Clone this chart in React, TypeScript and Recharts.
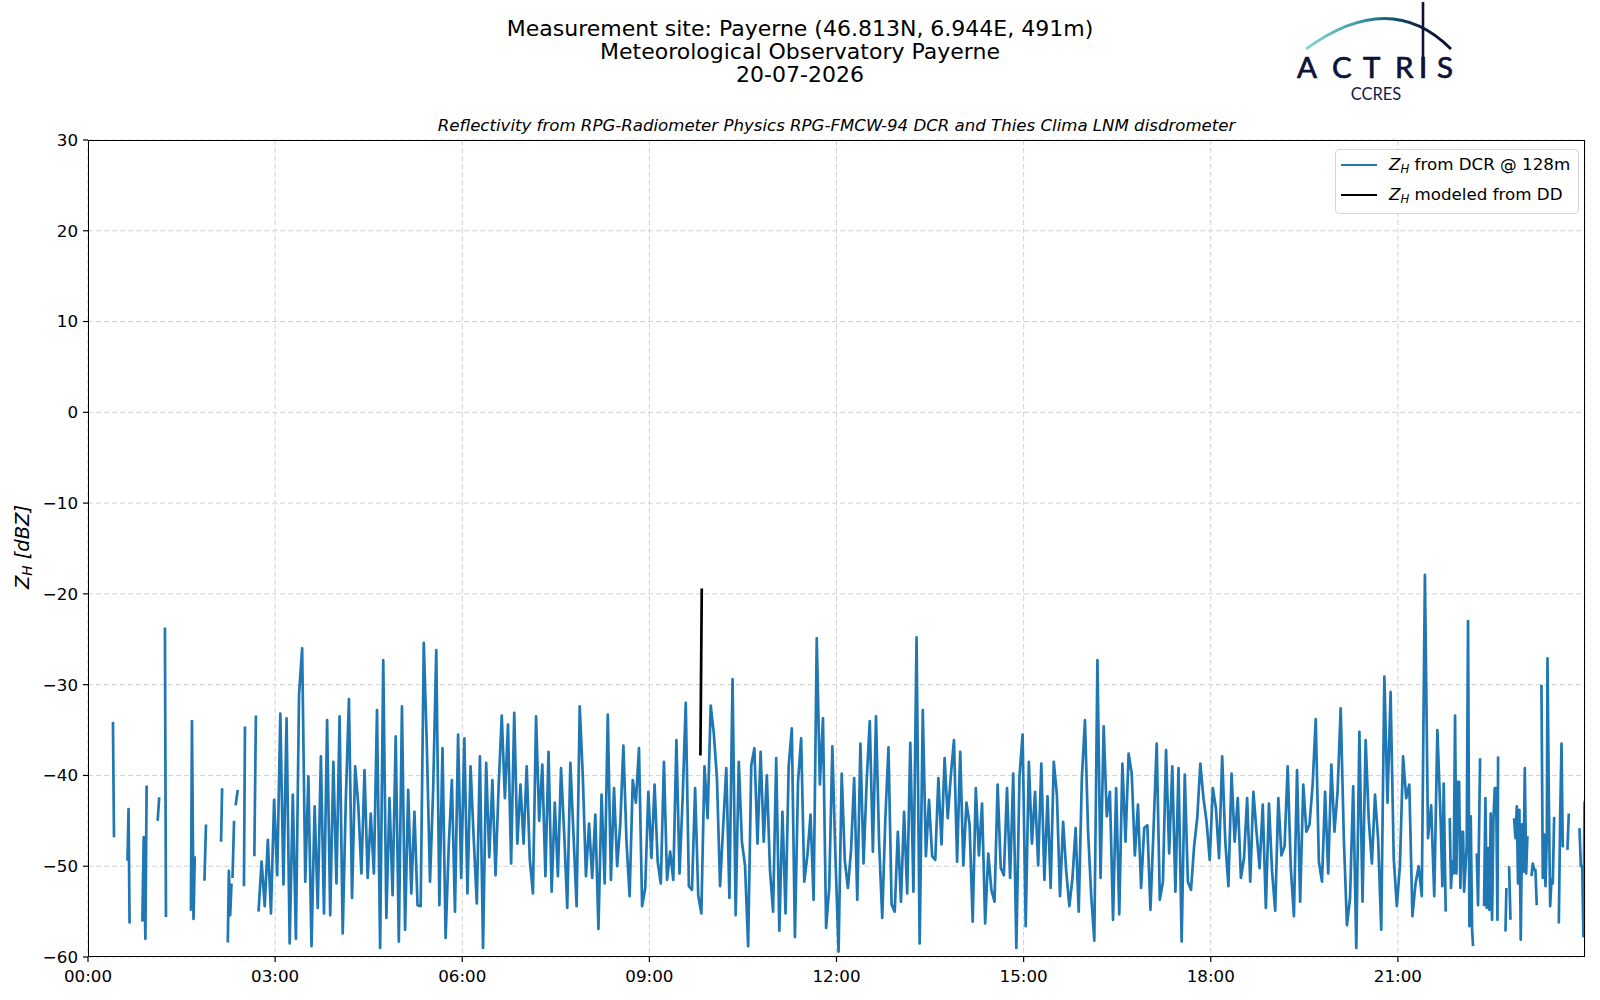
import { CartesianGrid, Legend, Line, LineChart, XAxis, YAxis } from 'recharts'

// sparse radar returns before the echo layer fills in (null = no data)
const earlyMinutes = [
  24, 25, 31, 38, 39, 40, 46, 52.3, 53.6, 55.2, 56.4, 62, 67, 68.5, 71, 74, 75, 87,
  99, 100, 101.5, 102.7, 107, 112, 113.5, 120, 128, 129, 132, 134.5, 135.5, 136.8,
  138, 138.5, 139, 140.5, 141.2, 142, 144, 147, 150, 151, 155, 160, 161.5, 163,
]
const earlyZh = [
  -34.1, -46.8, null, -49.4, -43.7, -56.3, null, -56.1, -46.8, -58.0, -41.1, null,
  -45.0, -42.4, null, -23.7, -55.6, null, -54.9, -34.0, -55.8, -48.9, null, -51.6,
  -45.4, null, -47.3, -41.4, null, -58.4, -50.5, -55.4, -51.9, null, -51.3, -45.0,
  null, -43.3, -41.6, null, -52.2, -34.6, null, -48.9, -33.4, null,
]

// continuous part, one value every 3 minutes from 02:44
const denseStartMinute = 164
const denseStepMinutes = 3
const denseZh = [
  -55.0, -49.5, -54.4, -47.1, -55.2, -42.7, -51.0, -33.2, -52.0, -33.7,
  -58.5, -42.1, -58.0, -31.1, -26.0, -51.7, -40.1, -58.8, -43.4, -54.6,
  -37.9, -55.2, -33.9, -55.4, -38.5, -51.9, -33.5, -57.4, -42.7, -31.6,
  -53.5, -39.0, -43.3, -50.8, -39.4, -51.3, -44.2, -50.8, -32.8, -59.0,
  -27.3, -55.7, -42.5, -53.2, -35.7, -58.3, -32.4, -57.0, -41.6, -53.0,
  -44.0, -54.3, -54.4, -25.4, -37.0, -51.7, -41.6, -26.2, -54.3, -37.0,
  -57.9, -47.8, -40.5, -55.0, -35.5, -51.3, -35.9, -53.0, -39.0, -46.9,
  -54.1, -37.9, -59.0, -38.6, -49.0, -40.5, -51.0, -41.2, -33.4, -42.5,
  -34.4, -49.7, -33.1, -47.5, -41.0, -47.5, -39.0, -49.3, -53.0, -33.5,
  -45.0, -38.8, -51.1, -37.4, -52.8, -43.0, -51.1, -39.2, -46.2, -54.6,
  -38.6, -46.5, -54.4, -32.4, -40.2, -51.1, -45.3, -51.3, -44.3, -56.9,
  -42.1, -51.9, -33.3, -51.5, -41.4, -50.0, -45.4, -36.7, -47.3, -53.3,
  -40.5, -43.0, -37.0, -54.4, -52.4, -41.8, -49.1, -41.0, -49.5, -51.9,
  -38.5, -51.5, -48.4, -51.5, -36.1, -50.8, -42.5, -32.0, -52.2, -52.6,
  -41.4, -53.2, -55.2, -39.0, -44.7, -32.3, -35.4, -40.3, -52.2, -45.6,
  -39.2, -53.5, -29.4, -55.4, -38.5, -47.3, -49.9, -58.8, -38.9, -37.0,
  -47.5, -37.4, -47.3, -40.0, -50.4, -55.0, -38.1, -57.1, -44.0, -55.2,
  -39.0, -34.8, -57.8, -40.7, -35.9, -51.7, -48.8, -44.3, -53.7, -24.9,
  -41.0, -33.7, -56.8, -52.4, -36.8, -49.1, -59.4, -39.8, -49.4, -52.4,
  -48.2, -40.3, -53.7, -36.5, -49.7, -40.7, -34.0, -48.4, -33.5, -47.5,
  -55.7, -44.7, -36.9, -54.2, -55.0, -46.2, -53.9, -44.0, -53.0, -36.4,
  -52.8, -24.8, -58.5, -32.8, -48.9, -42.7, -48.9, -49.3, -40.3, -47.6,
  -38.1, -44.7, -40.0, -36.1, -49.5, -37.4, -49.9, -43.0, -45.4, -56.1,
  -41.4, -48.8, -43.1, -56.3, -48.6, -52.6, -53.9, -41.0, -50.2, -51.0,
  -41.4, -51.3, -39.8, -59.0, -40.1, -35.5, -56.6, -38.5, -47.5, -41.8,
  -49.9, -38.7, -51.5, -42.3, -52.4, -38.5, -42.1, -53.3, -45.1, -50.6,
  -54.4, -51.3, -45.8, -55.0, -40.3, -33.9, -46.2, -53.2, -58.2, -27.3,
  -51.3, -34.6, -44.5, -41.8, -55.9, -41.4, -55.3, -38.7, -47.3, -37.6,
  -39.8, -48.8, -43.2, -52.4, -45.8, -45.5, -54.8, -45.8, -36.5, -53.7,
  -51.7, -37.2, -48.6, -39.0, -52.8, -39.2, -58.3, -39.9, -51.7, -52.6,
  -47.8, -44.7, -38.7, -42.5, -45.1, -49.3, -41.4, -43.6, -49.1, -37.9,
  -47.3, -52.2, -39.8, -47.3, -42.5, -51.3, -49.1, -42.5, -51.7, -41.8,
  -46.2, -50.2, -43.2, -54.6, -43.1, -50.6, -54.9, -42.5, -48.8, -47.8,
  -39.0, -50.2, -55.5, -39.4, -53.9, -41.0, -46.2, -45.4, -41.0, -33.8,
  -49.5, -51.7, -41.8, -50.8, -38.8, -46.2, -41.8, -32.6, -46.9, -56.5,
  -53.5, -41.2, -59.0, -35.2, -53.9, -36.1, -44.9, -49.7, -42.1, -47.0,
  -57.0, -29.1, -43.0, -30.8, -49.1, -54.4, -49.9, -37.9, -42.5, -41.0,
  -55.5, -51.9, -50.0, -53.3, -17.9, -46.9, -43.3, -53.3, -35.0,
]

// broken-up returns in the last two hours
const lateMinutes = [
  1301.2, 1302.8, 1304.1, 1306.0, 1308, 1309.9, 1311.1, 1312.4, 1313.7, 1315.0,
  1316.3, 1317.6, 1318.9, 1320.1, 1321.4, 1322.7, 1323.7, 1325.0, 1326.2, 1327.5,
  1328.8, 1330.1, 1331.4, 1332.3, 1334, 1335.9, 1337.1, 1339.1, 1341, 1342.9,
  1344.2, 1345.5, 1346.8, 1348.0, 1349.3, 1350.6, 1351.9, 1353.2, 1354.5, 1355.8,
  1356.4, 1360, 1363.5, 1364.4, 1365.7, 1367.0, 1368.3, 1370, 1371.8, 1373.1,
  1374.4, 1375.6, 1376.9, 1378.2, 1379.5, 1380.8, 1382.1, 1383.4, 1384.6, 1386.5,
  1388.5, 1389.8, 1391.1, 1392.3, 1393.6, 1396, 1398.1, 1399.4, 1400.7, 1402.0,
  1403.3, 1403.9, 1405.2, 1406.5, 1407.7, 1409.0, 1410.3, 1411.6, 1413, 1414.8,
  1416.1, 1417.4, 1418.6, 1419.9, 1421.5, 1423.1, 1424.4, 1430, 1434.7, 1436.0,
  1437.3, 1438.5, 1439.5, 1440,
]
const lateZh = [
  -45.1, -52.2, -40.9, -55.0, null, -44.7, -52.4, -49.5, -50.8, -33.4,
  -50.8, -40.7, -40.7, -52.4, -46.2, -46.2, -52.8, -50.2, -47.8, -23.0,
  -56.6, -44.5, -57.0, -58.8, null, -48.6, -54.3, -38.1, null, -54.4,
  -42.5, -54.6, -48.0, -54.8, -44.2, -55.9, -44.9, -41.4, -41.4, -55.9,
  -37.9, null, -57.2, -52.4, null, -50.0, -55.9, null, -44.7, -46.9,
  -43.4, -51.9, -43.8, -58.1, -45.4, -50.6, -39.2, -50.8, -46.7, null,
  -51.1, -49.7, -50.4, -50.4, -54.3, null, -30.0, -51.3, -46.5, -52.2,
  -46.7, -27.1, -42.5, -54.4, -51.5, -51.9, -44.7, -44.7, null, -56.3,
  -44.7, -36.5, -47.8, -47.8, null, -48.2, -44.2, null, -45.8, -50.0,
  -50.0, -57.7, -43.1, -42.8,
]

// disdrometer-modelled reflectivity (single rain event)
const ddMinutes = [589.1, 590.4]
const ddZh = [-37.8, -19.4]

const hourTicks = [0, 180, 360, 540, 720, 900, 1080, 1260]
const minorHourTicks = [
  0, 60, 120, 180, 240, 300, 360, 420, 480, 540, 600, 660, 720, 780, 840, 900, 960,
  1020, 1080, 1140, 1200, 1260, 1320, 1380, 1440,
]
const zhTicks = [30, 20, 10, 0, -10, -20, -30, -40, -50, -60]
const minorZhTicks = [
  30, 28, 26, 24, 22, 20, 18, 16, 14, 12, 10, 8, 6, 4, 2, 0, -2, -4, -6, -8, -10,
  -12, -14, -16, -18, -20, -22, -24, -26, -28, -30, -32, -34, -36, -38, -40, -42,
  -44, -46, -48, -50, -52, -54, -56, -58, -60,
]

const titleLines = [
  'Measurement site: Payerne (46.813N, 6.944E, 491m)',
  'Meteorological Observatory Payerne',
  '20-07-2026',
]
const subtitle =
  'Reflectivity from RPG-Radiometer Physics RPG-FMCW-94 DCR and Thies Clima LNM disdrometer'
const legendItems = [
  { label: 'from DCR @ 128m', color: '#1f77b4' },
  { label: 'modeled from DD', color: '#000000' },
]

const dcrData = [
  ...earlyMinutes.map((minute, i) => ({ minute, zh: earlyZh[i] })),
  ...denseZh.map((zh, i) => ({ minute: denseStartMinute + i * denseStepMinutes, zh })),
  ...lateMinutes.map((minute, i) => ({ minute, zh: lateZh[i] })),
]
const ddData = ddMinutes.map((minute, i) => ({ minute, zh: ddZh[i] }))

const FONT = '"DejaVu Sans", sans-serif'

const fmtTime = (m: number) =>
  `${String(Math.floor(m / 60)).padStart(2, '0')}:${String(m % 60).padStart(2, '0')}`
const fmtZh = (v: number) => (v < 0 ? `\u2212${Math.abs(v)}` : String(v))

const ZH = () => (
  <span>
    <i>Z</i>
    <sub style={{ fontSize: '0.7em', fontStyle: 'italic', verticalAlign: '-0.25em' }}>H</sub>
  </span>
)

const LegendBox = () => (
  <div
    style={{
      border: '1px solid #d4d4d4',
      borderRadius: 4,
      background: 'rgba(255,255,255,0.85)',
      padding: '0 8px 3px 5px',
      fontFamily: FONT,
      fontSize: 16.7,
      color: '#000',
    }}
  >
    {legendItems.map((item) => (
      <div key={item.label} style={{ display: 'flex', alignItems: 'center', height: 30 }}>
        <span style={{ width: 36, borderTop: `2.7px solid ${item.color}`, marginRight: 12 }} />
        <span style={{ whiteSpace: 'nowrap' }}>
          <ZH /> {item.label}
        </span>
      </div>
    ))}
  </div>
)

const Logo = () => (
  <svg width={1600} height={110} style={{ position: 'absolute', left: 0, top: 0 }}>
    <defs>
      <linearGradient id="arc" gradientUnits="userSpaceOnUse" x1={1306} y1={0} x2={1451} y2={0}>
        <stop offset="0" stopColor="#93d5cf" />
        <stop offset="0.35" stopColor="#3a9ea6" />
        <stop offset="0.6" stopColor="#155470" />
        <stop offset="0.8" stopColor="#0c1d3d" />
        <stop offset="1" stopColor="#0b0f30" />
      </linearGradient>
    </defs>
    <path d="M1306,49 Q1390,-12 1451,49" fill="none" stroke="url(#arc)" strokeWidth={2.8} />
    <line x1={1423} y1={2} x2={1423} y2={78} stroke="#0d1238" strokeWidth={2.6} />
    <text
      x="1297 1332 1363 1395 1419 1437"
      y={78}
      fontFamily="Lato, 'Open Sans', sans-serif"
      fontSize={29.5}
      fill="#0d1238"
      stroke="#0d1238"
      strokeWidth={0.7}
    >
      ACTRIS
    </text>
    <text x={1376} y={100} textAnchor="middle" fontFamily="Lato, sans-serif" fontSize={16.5} fill="#141c48">
      CCRES
    </text>
  </svg>
)

export default function App() {
  return (
    <div style={{ position: 'relative', width: 1600, height: 1000, background: '#fff', fontFamily: FONT }}>
      <style>{'body{margin:0}'}</style>
      {titleLines.map((t, i) => (
        <div
          key={t}
          style={{
            position: 'absolute',
            left: 0,
            width: 1600,
            top: 16 + i * 23,
            textAlign: 'center',
            fontSize: 22,
            lineHeight: '26px',
            color: '#000',
          }}
        >
          {t}
        </div>
      ))}
      <div
        style={{
          position: 'absolute',
          left: 88,
          width: 1497,
          top: 116,
          textAlign: 'center',
          fontSize: 16.6,
          fontStyle: 'italic',
          lineHeight: '20px',
        }}
      >
        {subtitle}
      </div>
      <Logo />
      <div
        style={{
          position: 'absolute',
          left: 23,
          top: 547,
          transform: 'translate(-50%, -50%) rotate(-90deg)',
          fontSize: 19.5,
          whiteSpace: 'nowrap',
        }}
      >
        <ZH /> <i>[dBZ]</i>
      </div>
      <div style={{ position: 'absolute', left: 0, top: 0 }}>
        <LineChart width={1600} height={1000} margin={{ top: 140, right: 15, bottom: 0, left: 0 }}>
          <CartesianGrid stroke="#d2d2d2" strokeDasharray="5 3" strokeWidth={1} />
          <XAxis
            xAxisId="minor"
            type="number"
            dataKey="minute"
            domain={[0, 1440]}
            ticks={minorHourTicks}
            tickFormatter={() => ''}
            height={0}
            tickSize={3}
            axisLine={false}
            tickLine={{ stroke: '#000', strokeWidth: 1 }}
            allowDataOverflow
          />
          <XAxis
            type="number"
            dataKey="minute"
            domain={[0, 1440]}
            ticks={hourTicks}
            tickFormatter={fmtTime}
            height={43}
            tickSize={5}
            tickMargin={8}
            axisLine={false}
            tickLine={{ stroke: '#000', strokeWidth: 1.2 }}
            tick={{ fill: '#000', fontSize: 16.7, fontFamily: FONT }}
            allowDataOverflow
          />
          <YAxis
            yAxisId="minor"
            type="number"
            domain={[-60, 30]}
            ticks={minorZhTicks}
            tickFormatter={() => ''}
            width={0}
            tickSize={3}
            axisLine={false}
            tickLine={{ stroke: '#000', strokeWidth: 1 }}
            allowDataOverflow
          />
          <YAxis
            type="number"
            domain={[-60, 30]}
            ticks={zhTicks}
            tickFormatter={fmtZh}
            width={88}
            tickSize={5}
            tickMargin={5}
            axisLine={false}
            tickLine={{ stroke: '#000', strokeWidth: 1.2 }}
            tick={{ fill: '#000', fontSize: 16.7, fontFamily: FONT }}
            allowDataOverflow
          />
          <Legend
            layout="horizontal"
            align="center"
            verticalAlign="middle"
            content={<LegendBox />}
            wrapperStyle={{ position: 'absolute', left: 1335, top: 149, width: 'auto' }}
          />
          <Line
            data={dcrData}
            dataKey="zh"
            type="linear"
            stroke="#1f77b4"
            strokeWidth={2.7}
            strokeLinejoin="round"
            dot={false}
            connectNulls={false}
            isAnimationActive={false}
            legendType="none"
          />
          <Line
            data={ddData}
            dataKey="zh"
            type="linear"
            stroke="#000"
            strokeWidth={2.7}
            dot={false}
            isAnimationActive={false}
            legendType="none"
          />
        </LineChart>
      </div>
      <div
        style={{
          position: 'absolute',
          left: 88,
          top: 140,
          width: 1497,
          height: 817,
          boxSizing: 'border-box',
          border: '1.2px solid #000',
          pointerEvents: 'none',
        }}
      />
    </div>
  )
}
